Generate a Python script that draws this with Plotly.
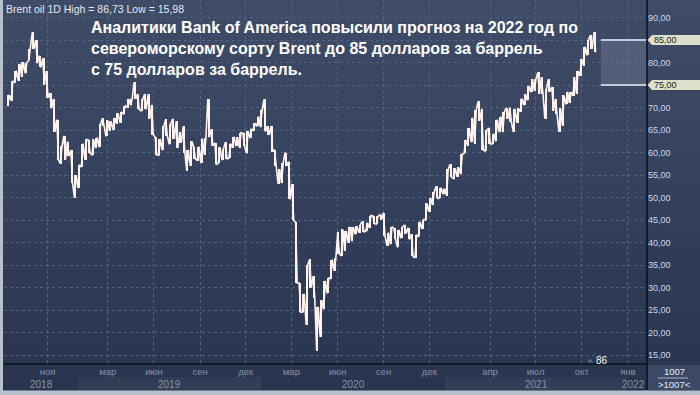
import plotly.graph_objects as go
import pandas as pd

# ---------------- data ----------------
first_week = "2018-08-15"   # mid-week date of the first weekly bar
week_low = [
    # 2018 (Aug 13 ... Dec 31)
    70.3, 71.5, 75.5, 76.0, 76.8, 77.6, 80.5, 83.0, 79.8, 78.9, 75.1, 72.2, 69.8, 64.6, 58.4, 57.5, 58.4, 59.2, 53.2, 50.0, 52.1,
    # 2019
    56.8, 58.4, 59.8, 59.5, 61.0, 61.2, 65.9, 63.6, 64.8, 65.0, 66.4, 66.6, 68.6, 70.0, 70.5, 71.9, 69.6, 69.2, 69.6, 67.5,
    64.0, 59.5, 59.4, 60.5, 63.7, 61.8, 63.0, 61.0, 62.2, 60.0, 55.9, 57.0, 58.6, 58.2, 57.7, 59.5, 63.4, 61.5, 57.4, 57.6,
    58.3, 58.6, 58.7, 61.1, 61.4, 61.1, 61.4, 59.8, 63.2, 64.8, 65.8, 65.6,
    # 2020
    64.7, 63.9, 60.2, 57.1, 53.1, 53.2, 57.0, 49.6, 44.9, 31.0, 24.5, 24.5, 21.7, 30.0, 27.6, 15.98, 19.0, 25.2, 28.7, 32.0,
    33.7, 37.5, 37.0, 38.1, 40.0, 40.3, 41.8, 42.2, 42.4, 42.5, 43.2, 44.2, 44.1, 45.1, 41.5, 39.3, 39.6, 40.8, 38.9, 40.9,
    42.0, 40.7, 36.9, 36.6, 41.4, 43.0, 45.0, 46.8, 48.3, 49.8, 49.9, 50.7,
    # 2021 (Jan 4 ... Oct 25)
    50.4, 54.5, 54.2, 54.6, 55.2, 59.8, 61.5, 62.3, 62.0, 67.0, 60.5, 60.3, 61.9, 61.9, 62.5, 64.5, 64.5, 67.5, 66.8, 64.6,
    66.6, 69.0, 70.5, 71.6, 73.4, 73.7, 73.0, 73.0, 67.5, 73.5, 69.3, 68.6, 64.6, 66.0, 70.7, 71.0, 72.6, 73.1, 77.0, 79.3,
    81.6, 83.0, 82.3,
]
week_high = [
    # 2018
    72.8, 75.9, 78.2, 79.7, 80.1, 80.0, 83.0, 86.7, 85.0, 81.5, 80.9, 78.1, 73.2, 71.9, 67.3, 61.4, 63.7, 62.4, 60.5, 55.0, 57.3,
    # 2019
    62.0, 62.9, 62.8, 62.9, 63.3, 66.4, 67.6, 67.2, 66.9, 67.7, 68.7, 68.9, 70.4, 71.9, 72.0, 75.6, 73.0, 71.8, 73.0, 73.0,
    70.6, 63.4, 63.0, 65.8, 67.4, 66.4, 67.5, 67.0, 64.5, 65.8, 60.6, 62.5, 61.2, 61.3, 63.1, 63.3, 71.9, 65.2, 62.1, 61.2,
    60.8, 62.3, 62.0, 63.5, 63.4, 64.4, 64.3, 64.8, 65.3, 66.5, 68.0, 69.5,
    # 2020
    71.8, 65.8, 65.9, 60.6, 56.3, 57.6, 60.0, 58.0, 53.0, 44.5, 31.0, 28.6, 35.0, 36.3, 32.5, 25.7, 27.2, 31.5, 32.1, 36.2,
    36.5, 42.4, 42.9, 42.6, 43.5, 43.4, 43.6, 44.0, 44.7, 44.4, 46.0, 45.9, 45.8, 46.2, 46.6, 42.2, 43.5, 43.2, 42.8, 43.4,
    43.9, 43.3, 41.8, 41.6, 44.6, 45.1, 48.7, 49.9, 51.2, 52.5, 52.2, 52.0,
    # 2021
    56.3, 57.4, 56.5, 56.7, 59.6, 62.8, 65.5, 67.7, 69.4, 71.4, 69.7, 65.0, 65.4, 64.2, 67.3, 68.0, 69.0, 69.9, 70.0, 69.7,
    69.8, 72.0, 73.0, 74.8, 76.3, 76.3, 77.8, 76.7, 74.2, 76.3, 74.5, 71.9, 69.8, 72.7, 73.5, 73.4, 76.7, 78.1, 80.8, 83.5,
    85.1, 86.1, 86.7,
]

y_ticks = [15, 20, 25, 30, 35, 40, 45, 50, 55, 60, 65, 70, 75, 80, 85, 90]
y_tick_labels = ["15,00", "20,00", "25,00", "30,00", "35,00", "40,00", "45,00", "50,00",
                 "55,00", "60,00", "65,00", "70,00", "", "80,00", "", "90,00"]

month_ticks = ["2018-11-01", "2019-03-01", "2019-06-01", "2019-09-01", "2019-12-01",
               "2020-03-01", "2020-06-01", "2020-09-01", "2020-12-01",
               "2021-04-01", "2021-07-01", "2021-10-01", "2022-01-01"]
month_labels = ["ноя", "мар", "июн", "сен", "дек", "мар", "июн", "сен", "дек",
                "апр", "июл", "окт", "янв"]

year_labels = ["2018", "2019", "2020", "2021"]
year_label_dates = ["2018-10-20", "2019-07-02", "2020-07-02", "2021-07-02"]
year_bands = [("2019-01-01", "2020-01-01"), ("2021-01-01", "2022-01-01")]
last_year_label = "2022"

forecast_old = 75
forecast_new = 85
forecast_start = "2021-11-08"

x_start = "2018-08-06"
x_end = "2022-02-08"

header_text = "Brent oil 1D High = 86,73 Low = 15,98"
title_lines = ["Аналитики Bank of America повысили прогноз на 2022 год по",
               "североморскому сорту Brent до 85 долларов за баррель",
               "с 75 долларов за баррель."]
counter_text = "86"
footer_top = "1007"
footer_bottom = ">1007<"

# ---------------- geometry helpers (layout only) ----------------
W, H = 700, 395
ML, MR, MT, MB = 4, 53, 0, 31
PW = W - ML - MR
PH = H - MT - MB


def px(xp):
    return (xp - ML) / PW


def py(yp):
    return (MT + PH - yp) / PH


FONT = "Liberation Sans, Arial, sans-serif"

week_dates = pd.date_range(first_week, periods=len(week_low), freq="7D")
bar_len = [h - l for h, l in zip(week_high, week_low)]

# each weekly bar drawn as a low-high stroke, strokes joined in time order
half = pd.Timedelta(days=1.6)
zx, zy = [], []
nW = len(week_low)
for i in range(nW):
    lo, hi = week_low[i], week_high[i]
    if i < nW - 1:
        rising = (week_low[i + 1] + week_high[i + 1]) > (lo + hi)
    else:
        rising = False
    a, b = (lo, hi) if rising else (hi, lo)
    zx += [week_dates[i] - half, week_dates[i] + half]
    zy += [a, b]

fig = go.Figure()
fig.add_trace(go.Bar(
    x=week_dates, y=bar_len, base=week_low,
    width=2.4 * 24 * 3600 * 1000,
    marker=dict(color="#fff1ec", line=dict(width=0)),
    hoverinfo="skip", showlegend=False,
))
fig.add_trace(go.Scatter(
    x=zx, y=zy, mode="lines",
    line=dict(color="#fff1ec", width=1.6),
    hoverinfo="skip", showlegend=False,
))

shapes = []
# background gradient (top lighter, bottom darker)
top = (63, 76, 104)
bot = (41, 53, 79)
n = 26
for i in range(n):
    t = i / (n - 1)
    c = tuple(round(top[k] + (bot[k] - top[k]) * t) for k in range(3))
    y0 = 390 * i / n
    y1 = 390 * (i + 1) / n
    shapes.append(dict(type="rect", xref="paper", yref="paper",
                       x0=px(3), x1=px(700), y0=py(y1 + 0.5), y1=py(y0),
                       fillcolor="rgb(%d,%d,%d)" % c, line=dict(width=0), layer="below"))
# year bands in the bottom row
for a, b in year_bands:
    shapes.append(dict(type="rect", xref="x", yref="paper", x0=a, x1=b,
                       y0=py(390), y1=py(377), fillcolor="rgba(255,255,255,0.045)",
                       line=dict(width=0), layer="below"))
# forecast zone
shapes.append(dict(type="rect", xref="x", yref="y", x0=forecast_start, x1=x_end,
                   y0=forecast_old, y1=forecast_new, fillcolor="rgba(150,160,185,0.25)",
                   line=dict(width=0), layer="above"))
for v in (forecast_old, forecast_new):
    shapes.append(dict(type="line", xref="x", yref="y", x0=forecast_start, x1=x_end,
                       y0=v, y1=v, line=dict(color="#c4c9d3", width=2), layer="above"))
# price tags on right axis
hh = 5 / (PH / (93.89 - 13.0))
for v in (forecast_old, forecast_new):
    path = "M %f %f L %f %f L %f %f L %f %f L %f %f Z" % (
        px(647.5), v, px(652), v + hh, px(700), v + hh, px(700), v - hh, px(652), v - hh)
    shapes.append(dict(type="path", xref="paper", yref="y", path=path,
                       fillcolor="#dde0c9", line=dict(width=0), layer="above"))
# bottom-right info box
shapes.append(dict(type="rect", xref="paper", yref="paper", x0=px(648), x1=px(700),
                   y0=py(390), y1=py(365), fillcolor="#3b4966", line=dict(width=0), layer="above"))
shapes.append(dict(type="line", xref="paper", yref="paper", x0=px(658), x1=px(688),
                   y0=py(378), y1=py(378), line=dict(color="#aab3c4", width=1), layer="above"))
# axis frame lines
shapes.append(dict(type="line", xref="paper", yref="paper", x0=1, x1=1, y0=py(390), y1=py(0),
                   line=dict(color="#0b0f18", width=1.5), layer="above"))
shapes.append(dict(type="line", xref="paper", yref="paper", x0=0, x1=1, y0=0, y1=0,
                   line=dict(color="#0b0f18", width=1.5), layer="above"))
# small marker triangle near the counter
shapes.append(dict(type="path", xref="paper", yref="paper",
                   path="M %f %f L %f %f L %f %f Z" % (px(587), py(362.5), px(593.5), py(362.5), px(590.2), py(358.5)),
                   fillcolor="#5e6a86", line=dict(width=0), layer="above"))

annotations = []
annotations.append(dict(xref="paper", yref="paper", x=px(4), y=py(9), xanchor="left", yanchor="middle",
                        text=header_text, showarrow=False,
                        font=dict(family=FONT, size=10.5, color="#e4e9f2")))
annotations.append(dict(xref="paper", yref="paper", x=px(89), y=py(17), xanchor="left", yanchor="top",
                        text="<b>" + "<br>".join(title_lines) + "</b>", showarrow=False, align="left",
                        font=dict(family=FONT, size=16, color="#ffffff")))
for lab, d in zip(year_labels, year_label_dates):
    annotations.append(dict(xref="x", yref="paper", x=d, y=py(384), xanchor="center", yanchor="middle",
                            text=lab, showarrow=False, font=dict(family=FONT, size=10, color="#8592ab")))
annotations.append(dict(xref="x", yref="paper", x=x_end, y=py(384), xanchor="right", yanchor="middle",
                        text=last_year_label, showarrow=False, font=dict(family=FONT, size=10, color="#8592ab")))
for v in (forecast_old, forecast_new):
    annotations.append(dict(xref="paper", yref="y", x=px(652), y=v, xanchor="left", yanchor="middle",
                            text=("%d,00" % v), showarrow=False,
                            font=dict(family=FONT, size=9, color="#1e2228")))
annotations.append(dict(xref="paper", yref="paper", x=px(602), y=py(360), xanchor="center", yanchor="middle",
                        text=counter_text, showarrow=False, font=dict(family=FONT, size=10, color="#f0f2f6")))
annotations.append(dict(xref="paper", yref="paper", x=px(674), y=py(371), xanchor="center", yanchor="middle",
                        text=footer_top, showarrow=False, font=dict(family=FONT, size=9.5, color="#e8edf6")))
annotations.append(dict(xref="paper", yref="paper", x=px(674), y=py(384.5), xanchor="center", yanchor="middle",
                        text=footer_bottom, showarrow=False, font=dict(family=FONT, size=9.5, color="#e8edf6")))

fig.update_layout(
    width=W, height=H,
    margin=dict(l=ML, r=MR, t=MT, b=MB, pad=0),
    paper_bgcolor="#b9c0cb",
    plot_bgcolor="rgba(0,0,0,0)",
    showlegend=False,
    bargap=0,
    shapes=shapes,
    annotations=annotations,
    xaxis=dict(type="date", range=[x_start, x_end], tickmode="array",
               tickvals=month_ticks, ticktext=month_labels, ticks="",
               showgrid=True, gridcolor="#55627e", griddash="3px,3px", gridwidth=1,
               zeroline=False, showline=False, fixedrange=True,
               tickfont=dict(family=FONT, size=9.5, color="#8591aa")),
    yaxis=dict(side="right", range=[13.0, 93.89], tickmode="array",
               tickvals=y_ticks, ticktext=y_tick_labels, ticks="",
               showgrid=True, gridcolor="#55627e", griddash="3px,3px", gridwidth=1,
               zeroline=False, showline=False, fixedrange=True,
               tickfont=dict(family=FONT, size=9, color="#cdd8ec")),
)

fig.write_html("out.html", config=dict(displayModeBar=False))
